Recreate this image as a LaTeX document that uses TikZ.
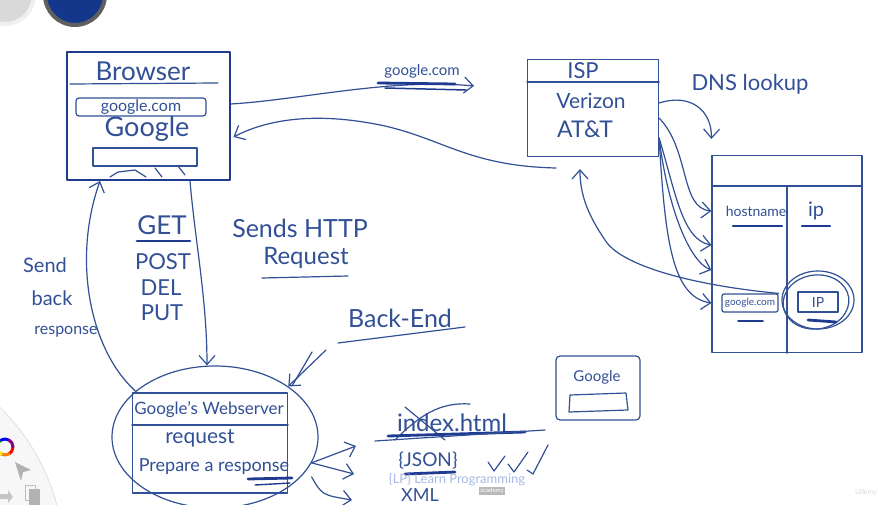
\documentclass[tikz,border=0pt]{standalone}
\usepackage{fontspec}
\setmainfont{Lato}
\usetikzlibrary{arrows.meta,shapes.geometric,calc}
\definecolor{ink}{RGB}{50,80,150}
\definecolor{inkdark}{RGB}{30,58,145}
\definecolor{blueone}{RGB}{20,55,140}
\newcommand\hfs[1]{\fontsize{#1pt}{#1pt}\selectfont}
\begin{document}
\begin{tikzpicture}[x=1pt,y=-1pt, line cap=round, line join=round,
  pen/.style={draw=ink, line width=1.2pt},
  txt/.style={text=ink, inner sep=0pt, anchor=center},
  arr/.style={pen, -{Straight Barb[length=9pt,width=16pt]}},
  scrib/.style={draw=inkdark, line width=2.8pt},
  box/.style={pen, rectangle, inner sep=0pt}]
\fill[white] (0,0) rectangle (886,505);
\useasboundingbox (0,0) rectangle (886,505);

% --- app UI remnants ---
\fill[gray!6, even odd rule] (-150,560) circle (214) (-150,560) circle (150);
\draw[gray!25, line width=0.8pt] (-150,560) circle (214);
\foreach \a/\c in {0/red,60/orange,120/yellow,180/green!70!black,240/blue,300/violet}
  \draw[\c, line width=3pt] (5,447) ++(\a:8) arc[start angle=\a, end angle=\a+60, radius=8];
\fill[gray!60] (15,462) -- (31,470) -- (23,472) -- (21,481) -- cycle;
\draw[gray!50, line width=1pt] (25,485) rectangle (35,500);
\fill[gray!60] (29,489) rectangle (40,505);
\fill[gray!45] (0,494) -- (8,494) -- (8,490) -- (13,497) -- (8,503) -- (8,499) -- (0,499) -- cycle;
\filldraw[fill=gray!30, draw=gray!12, line width=4pt] (5,-5) circle (29);
\filldraw[fill=blueone, draw=gray!75!black, line width=4pt] (75,-5) circle (30);

% --- Browser ---
\node[box, draw=inkdark, line width=2pt, minimum width=163pt, minimum height=128pt] (browser) at (148,116) {};
\node[txt, font=\hfs{26}] (browserT) at (143,71) {Browser};
\draw[pen] (70,84) -- (218,83);
\node[pen, txt, rounded corners=3pt, minimum width=130pt, minimum height=18pt, font=\hfs{16}] (url) at (141,107) {google.com};
\node[txt, font=\hfs{27}] (glogo) at (147,129) {Google};
\node[box, minimum width=104pt, minimum height=18pt] (search) at (145,157) {};
\draw[pen] (110,177) -- (118,172) -- (135,170) -- (146,177);
\draw[pen] (155,168) -- (162,177);
\draw[pen] (178,166) -- (185,175);

% --- google.com request ---
\node[txt, font=\hfs{15}] (gcomLbl) at (422,71) {google.com};
\coordinate (gcomEnd) at (474,86);
\draw[arr] ([yshift=12pt]browser.east) .. controls (300,100) and (390,78) .. (gcomEnd);
\draw[scrib] (378,83) -- (455,84);
\draw[draw=inkdark, line width=1.5pt] (385,88) -- (466,90);

% --- ISP ---
\node[box, minimum width=131pt, minimum height=97pt] (isp) at (593,108) {};
\draw[pen] (isp.west |- 0,82) -- (isp.east |- 0,82);
\node[txt, font=\hfs{22}] (ispT) at (583,71) {ISP};
\node[txt, font=\hfs{21}] (verizon) at (591,101) {Verizon};
\node[txt, font=\hfs{23}] (att) at (585,129) {AT\&T};
\node[txt, font=\hfs{22}] (dnsLbl) at (750,84) {DNS lookup};

\coordinate (retStart) at (556,168);
\draw[arr] (retStart) .. controls (470,166) and (445,140) .. (385,126)
  .. controls (320,112) and (270,118) .. ([xshift=3pt,yshift=-21pt]browser.east);

% --- DNS table ---
\node[box, minimum width=150pt, minimum height=197pt] (dns) at (787,254) {};
\draw[pen] (dns.west |- 0,186) -- (dns.east |- 0,186);
\draw[pen] (dns.south |- 0,186) -- (dns.south);
\node[txt, font=\hfs{14}] (host) at (756,211) {hostname};
\draw[draw=inkdark, line width=2.2pt] (733,226) -- (782,226);
\node[txt, font=\hfs{20}] (iphdr) at (816,211) {ip};
\draw[draw=inkdark, line width=2.2pt] (802,226) -- (830,226);
\node[pen, txt, rounded corners=2pt, minimum width=56pt, minimum height=18pt, font=\hfs{10}] (gentry) at (750,303) {google.com};
\draw[draw=inkdark, line width=1.5pt] (738,321) -- (763,321);
\node[pen, txt, minimum width=40pt, minimum height=20pt, font=\hfs{14}] (ipcell) at (818,302) {IP};
\node[pen, ellipse, minimum width=72pt, minimum height=58pt] (ipcirc) at (818,300) {};
\node[pen, ellipse, minimum width=66pt, minimum height=54pt, rotate=8] (ipcirc2) at (816,302) {};
\draw[scrib] (808,320) -- (836,322);

\coordinate (row2) at (dns.west |- 0,245);
\coordinate (row3) at (dns.west |- 0,270);
\draw[arr] ([yshift=5pt]isp.east) .. controls (690,93) and (712,110) .. ([yshift=16pt]dns.north west);
\draw[arr] ([yshift=-10pt]isp.east) .. controls (690,150) and (680,208) .. (dns.west |- host.west);
\draw[arr] ([yshift=-30pt]isp.east) .. controls (675,190) and (682,240) .. (row2);
\draw[arr] ([yshift=-30pt]isp.east) .. controls (668,210) and (690,262) .. (row3);
\draw[arr] ([yshift=-30pt]isp.east) .. controls (665,240) and (672,297) .. (dns.west |- gentry.west);
\draw[arr] (gentry.north east) .. controls (690,285) and (620,265) .. (605,240)
  .. controls (588,215) and (580,195) .. ([xshift=-13pt,yshift=-12pt]isp.south);

% --- HTTP methods ---
\node[txt, font=\hfs{26}] (get) at (162,225) {GET};
\draw[scrib] (137,241) -- (190,241);
\node[txt, font=\hfs{22}] (post) at (163,262) {POST};
\node[txt, font=\hfs{22}] (del) at (161,288) {DEL};
\node[txt, font=\hfs{22}] (put) at (162,313) {PUT};
\node[txt, font=\hfs{25}] (sends) at (300,228) {Sends HTTP};
\node[txt, font=\hfs{24}] (req) at (306,258) {Request};
\draw[pen] (262,278) -- (348,276);
\node[txt, font=\hfs{20}] (send1) at (45,265) {Send};
\node[txt, font=\hfs{20}] (send2) at (52,298) {back};
\node[txt, font=\hfs{16}] (send3) at (66,332) {response};

% --- Webserver ---
\node[pen, ellipse, minimum width=206pt, minimum height=142pt] (web) at (215,437) {};
\node[box, minimum width=155pt, minimum height=100pt] (wbox) at (210,443) {};
\draw[pen] (wbox.west |- 0,425) -- (wbox.east |- 0,425);
\node[txt, font=\hfs{17}] (wsT) at (209,410) {Google's Webserver};
\node[txt, font=\hfs{21}] (wreq) at (200,438) {request};
\node[txt, font=\hfs{18}] (wprep) at (214,467) {Prepare a response};
\draw[scrib] (248,479) -- (292,478);
\draw[draw=inkdark, line width=1.4pt] (255,485) -- (290,483);

\draw[arr] ([xshift=42pt]browser.south) .. controls (195,240) and (207,300) .. ([xshift=-8pt]web.north);
\draw[arr] (web.150) .. controls (90,350) and (72,260) .. ([xshift=-48pt]browser.south);

\node[txt, font=\hfs{25}] (backend) at (400,318) {Back-End};
\draw[pen] (338,343) -- (465,327);
\coordinate (beStart) at (326,350);
\draw[arr] (beStart) -- (web.north east);
\draw[pen] (312,352) -- (292,386);

% --- responses ---
\coordinate (outA) at (356,446);
\coordinate (outB) at (354,474);
\coordinate (outC) at (352,500);
\draw[arr] (web.-15) -- (outA);
\draw[arr] (web.-15) -- (outB);
\draw[arr] ([yshift=-14pt]web.-15) .. controls (322,495) .. (outC);

\node[txt, font=\hfs{24}] (index) at (452,423) {index.html};
\draw[pen] (405,407) -- (445,440);
\draw[pen] (395,440) .. controls (420,415) and (440,402) .. (470,404);
\draw[scrib] (388,436) -- (525,432);
\draw[pen] (375,441) -- (545,430);
\node[txt, font=\hfs{19}] (json) at (428,461) {\{JSON\}};
\draw[scrib] (405,474) -- (455,472);
\draw[pen] (488,462) -- (494,471) -- (505,456);
\draw[pen] (508,464) -- (514,472) -- (528,452);
\draw[pen] (527,470) -- (533,474) -- (548,445);
\node[txt, font=\hfs{18}] (xml) at (420,495) {XML};
\node[text=cyan!45!blue!45, opacity=0.8, inner sep=0pt, font=\hfs{13}] (wm) at (457,480) {\{LP\} Learn Programming};
\node[fill=gray!55, text=white, font=\hfs{6}, inner sep=1pt] (wm2) at (492,491) {academy};

% --- mini Google page ---
\node[pen, rounded corners=4pt, minimum width=84pt, minimum height=64pt] (mini) at (598,388) {};
\node[txt, font=\hfs{15}] (miniT) at (597,377) {Google};
\draw[pen] (570,395) -- (626,393) -- (628,410) -- (569,412) -- cycle;

\node[text=gray!30, inner sep=0pt, font=\hfs{7}] (udemy) at (866,493) {Udemy};
\end{tikzpicture}
\end{document}
